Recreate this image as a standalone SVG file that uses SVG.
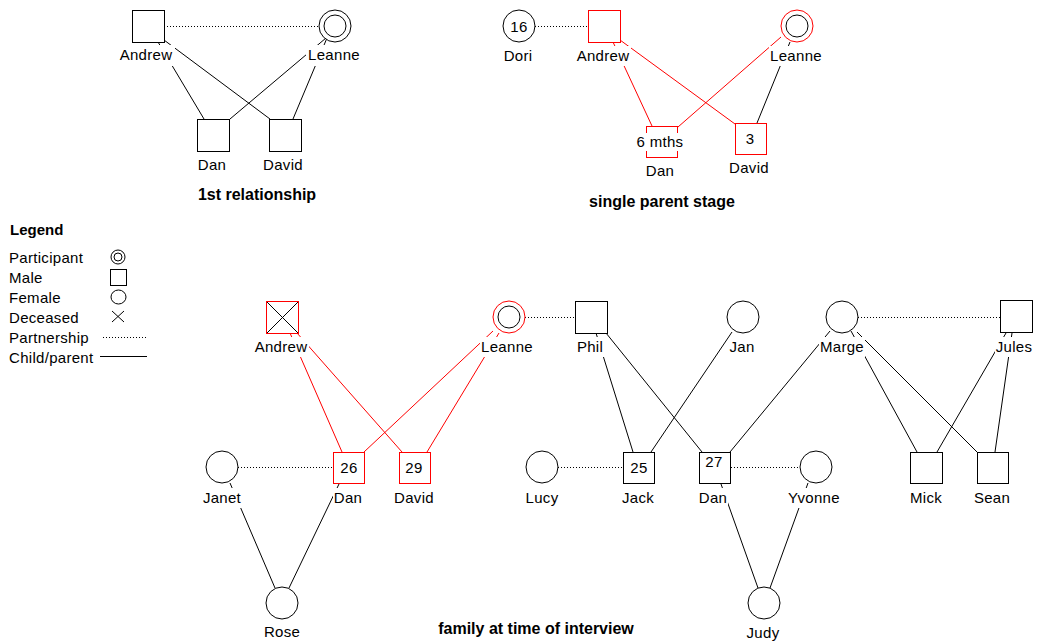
<svg xmlns="http://www.w3.org/2000/svg" width="1038" height="642" viewBox="0 0 1038 642">
<style>
.sh{fill:#fff;stroke:#000;stroke-width:1}
.rd{stroke:#ff0000}
.ln{stroke:#000;stroke-width:1;fill:none}
.lr{stroke:#ff0000;stroke-width:1;fill:none}
.dt{stroke:#000;stroke-width:1;stroke-dasharray:1 2;fill:none}
.bg{fill:#fff}
text{font-family:"Liberation Sans",Arial,sans-serif;font-size:15px;letter-spacing:0.3px;fill:#000}
.c{text-anchor:middle}
.t{font-weight:bold;font-size:16px;letter-spacing:0}
.lg{font-weight:bold;font-size:15px;letter-spacing:0}
</style>
<rect width="1038" height="642" fill="#fff"/>

<g id="connectors">
  <!-- 1st relationship -->
  <line class="dt" x1="164" y1="26.5" x2="319" y2="26.5"/>
  <line class="ln" x1="158" y1="42" x2="204" y2="119"/>
  <line class="ln" x1="164" y1="40" x2="270" y2="119"/>
  <line class="ln" x1="326" y1="38" x2="230" y2="119"/>
  <line class="ln" x1="327" y1="38" x2="293" y2="119"/>
  <!-- single parent stage -->
  <line class="dt" x1="535" y1="26.5" x2="588" y2="26.5"/>
  <line class="lr" x1="613" y1="42" x2="652" y2="126"/>
  <line class="lr" x1="620" y1="40" x2="735" y2="124"/>
  <line class="lr" x1="781" y1="37" x2="678" y2="127"/>
  <line class="ln" x1="790" y1="42" x2="757" y2="123"/>
  <!-- family at time of interview -->
  <line class="dt" x1="525" y1="317.5" x2="575" y2="317.5"/>
  <line class="dt" x1="858" y1="317.5" x2="1000" y2="317.5"/>
  <line class="dt" x1="238" y1="467.5" x2="333" y2="467.5"/>
  <line class="dt" x1="558" y1="467.5" x2="623" y2="467.5"/>
  <line class="dt" x1="731" y1="467.5" x2="800" y2="467.5"/>
  <line class="lr" x1="290" y1="333" x2="342" y2="452"/>
  <line class="lr" x1="297" y1="333" x2="402" y2="452"/>
  <line class="lr" x1="493" y1="331" x2="364" y2="452"/>
  <line class="lr" x1="499" y1="333" x2="427" y2="452"/>
  <line class="ln" x1="596" y1="333" x2="633" y2="452"/>
  <line class="ln" x1="606" y1="333" x2="702" y2="452"/>
  <line class="ln" x1="732" y1="332" x2="651" y2="452"/>
  <line class="ln" x1="830" y1="331" x2="730" y2="452"/>
  <line class="ln" x1="851" y1="331" x2="917" y2="452"/>
  <line class="ln" x1="857" y1="332" x2="977" y2="452"/>
  <line class="ln" x1="1006" y1="333" x2="937" y2="452"/>
  <line class="ln" x1="1012" y1="333" x2="995" y2="452"/>
  <line class="ln" x1="230" y1="483" x2="275" y2="588"/>
  <line class="ln" x1="339" y1="484" x2="289" y2="588"/>
  <line class="ln" x1="721" y1="484" x2="758" y2="588"/>
  <line class="ln" x1="808" y1="483" x2="770" y2="588"/>
</g>

<!-- ===== 1st relationship ===== -->
<g id="r1-andrew">
  <rect class="sh" x="132.5" y="10.5" width="32" height="32"/>
  <rect class="bg" x="118" y="45" width="57" height="21"/>
  <text class="c" x="146" y="60">Andrew</text>
</g>
<g id="r1-leanne">
  <circle class="sh" cx="335" cy="26" r="16"/>
  <circle class="sh" cx="335" cy="26" r="11"/>
  <rect class="bg" x="306" y="45" width="56" height="21"/>
  <text class="c" x="334" y="60">Leanne</text>
</g>
<g id="r1-dan">
  <rect class="sh" x="197.5" y="119.5" width="32" height="32"/>
  <rect class="bg" x="196" y="155" width="32" height="20"/>
  <text class="c" x="212" y="170">Dan</text>
</g>
<g id="r1-david">
  <rect class="sh" x="269.5" y="119.5" width="32" height="32"/>
  <rect class="bg" x="262" y="155" width="43" height="20"/>
  <text class="c" x="283" y="170">David</text>
</g>
<text id="title-1" class="c t" x="257" y="200">1st relationship</text>

<!-- ===== single parent stage ===== -->
<g id="s-dori">
  <circle class="sh" cx="519" cy="26" r="16"/>
  <text class="c" x="519" y="31.5">16</text>
  <rect class="bg" x="503" y="46" width="31" height="20"/>
  <text class="c" x="518" y="61">Dori</text>
</g>
<g id="s-andrew">
  <rect class="sh rd" x="588.5" y="10.5" width="32" height="32"/>
  <rect class="bg" x="576" y="46" width="55" height="20"/>
  <text class="c" x="603" y="61">Andrew</text>
</g>
<g id="s-leanne">
  <circle class="sh rd" cx="797" cy="26" r="16"/>
  <circle class="sh" cx="797" cy="26" r="11"/>
  <rect class="bg" x="769" y="46" width="55" height="20"/>
  <text class="c" x="796" y="61">Leanne</text>
</g>
<g id="s-dan">
  <rect class="sh rd" x="646.5" y="126.5" width="31" height="31"/>
  <rect class="bg" x="636" y="133" width="49" height="18"/>
  <text class="c" x="660" y="147">6 mths</text>
  <rect class="bg" x="645" y="161" width="31" height="20"/>
  <text class="c" x="660" y="176">Dan</text>
</g>
<g id="s-david">
  <rect class="sh rd" x="735.5" y="123.5" width="31" height="31"/>
  <text class="c" x="750" y="144">3</text>
  <rect class="bg" x="728" y="158" width="43" height="20"/>
  <text class="c" x="749" y="173">David</text>
</g>
<text id="title-2" class="c t" x="662" y="207">single parent stage</text>

<!-- ===== Legend ===== -->
<g id="legend">
  <text class="lg" x="10" y="235">Legend</text>
  <text x="9" y="263">Participant</text>
  <text x="9" y="283">Male</text>
  <text x="9" y="303">Female</text>
  <text x="9" y="323">Deceased</text>
  <text x="9" y="343">Partnership</text>
  <text x="9" y="363">Child/parent</text>
  <circle class="sh" cx="118" cy="257" r="7"/>
  <circle class="sh" cx="118" cy="257" r="4"/>
  <rect class="sh" x="110.5" y="269.5" width="16" height="16"/>
  <ellipse class="sh" cx="118.5" cy="297" rx="7.5" ry="7"/>
  <line class="ln" x1="112" y1="311" x2="124" y2="322"/>
  <line class="ln" x1="124" y1="311" x2="112" y2="322"/>
  <line class="dt" x1="103" y1="337.5" x2="147" y2="337.5"/>
  <line class="ln" x1="100" y1="356.5" x2="147" y2="356.5"/>
</g>

<!-- ===== family at time of interview ===== -->
<g id="f-andrew">
  <rect class="sh rd" x="266.5" y="301.5" width="32" height="32"/>
  <line class="ln" x1="267" y1="302" x2="298" y2="333"/>
  <line class="ln" x1="298" y1="302" x2="267" y2="333"/>
  <rect class="bg" x="253" y="337" width="56" height="20"/>
  <text class="c" x="281" y="352">Andrew</text>
</g>
<g id="f-leanne">
  <circle class="sh rd" cx="509" cy="317" r="16"/>
  <circle class="sh" cx="509" cy="317" r="11"/>
  <rect class="bg" x="480" y="337" width="55" height="20"/>
  <text class="c" x="507" y="352">Leanne</text>
</g>
<g id="f-phil">
  <rect class="sh" x="575.5" y="301.5" width="32" height="32"/>
  <rect class="bg" x="576" y="337" width="29" height="20"/>
  <text class="c" x="590" y="352">Phil</text>
</g>
<g id="f-jan">
  <circle class="sh" cx="743" cy="317" r="16"/>
  <rect class="bg" x="729" y="337" width="27" height="20"/>
  <text class="c" x="742" y="352">Jan</text>
</g>
<g id="f-marge">
  <circle class="sh" cx="842" cy="317" r="16"/>
  <rect class="bg" x="819" y="337" width="46" height="20"/>
  <text class="c" x="842" y="352">Marge</text>
</g>
<g id="f-jules">
  <rect class="sh" x="1000.5" y="300.5" width="32" height="32"/>
  <rect class="bg" x="995" y="337" width="38" height="20"/>
  <text class="c" x="1014" y="352">Jules</text>
</g>
<g id="f-janet">
  <circle class="sh" cx="222" cy="467" r="16"/>
  <rect class="bg" x="202" y="488" width="40" height="20"/>
  <text class="c" x="222" y="503">Janet</text>
</g>
<g id="f-dan26">
  <rect class="sh rd" x="333.5" y="452.5" width="31" height="31"/>
  <text class="c" x="349" y="473">26</text>
  <rect class="bg" x="333" y="488" width="30" height="20"/>
  <text class="c" x="348" y="503">Dan</text>
</g>
<g id="f-david29">
  <rect class="sh rd" x="399.5" y="452.5" width="31" height="31"/>
  <text class="c" x="414" y="473">29</text>
  <rect class="bg" x="393" y="488" width="42" height="20"/>
  <text class="c" x="414" y="503">David</text>
</g>
<g id="f-lucy">
  <circle class="sh" cx="542" cy="467" r="16"/>
  <rect class="bg" x="525" y="488" width="35" height="20"/>
  <text class="c" x="542" y="503">Lucy</text>
</g>
<g id="f-jack">
  <rect class="sh" x="623.5" y="452.5" width="31" height="31"/>
  <text class="c" x="639" y="473">25</text>
  <rect class="bg" x="621" y="488" width="34" height="20"/>
  <text class="c" x="638" y="503">Jack</text>
</g>
<g id="f-dan27">
  <rect class="sh" x="699.5" y="452.5" width="31" height="31"/>
  <text class="c" x="714" y="467">27</text>
  <rect class="bg" x="698" y="488" width="30" height="20"/>
  <text class="c" x="713" y="503">Dan</text>
</g>
<g id="f-yvonne">
  <circle class="sh" cx="816" cy="467" r="16"/>
  <rect class="bg" x="787" y="488" width="55" height="20"/>
  <text class="c" x="814" y="503">Yvonne</text>
</g>
<g id="f-mick">
  <rect class="sh" x="910.5" y="452.5" width="32" height="31"/>
  <rect class="bg" x="909" y="488" width="34" height="20"/>
  <text class="c" x="926" y="503">Mick</text>
</g>
<g id="f-sean">
  <rect class="sh" x="977.5" y="452.5" width="31" height="31"/>
  <rect class="bg" x="973" y="488" width="38" height="20"/>
  <text class="c" x="992" y="503">Sean</text>
</g>
<g id="f-rose">
  <circle class="sh" cx="282" cy="603" r="16"/>
  <rect class="bg" x="263" y="622" width="38" height="20"/>
  <text class="c" x="282" y="637">Rose</text>
</g>
<g id="f-judy">
  <circle class="sh" cx="764" cy="603" r="16"/>
  <rect class="bg" x="746" y="623" width="35" height="19"/>
  <text class="c" x="763" y="638">Judy</text>
</g>
<text id="title-3" class="c t" x="536" y="634">family at time of interview</text>
</svg>
